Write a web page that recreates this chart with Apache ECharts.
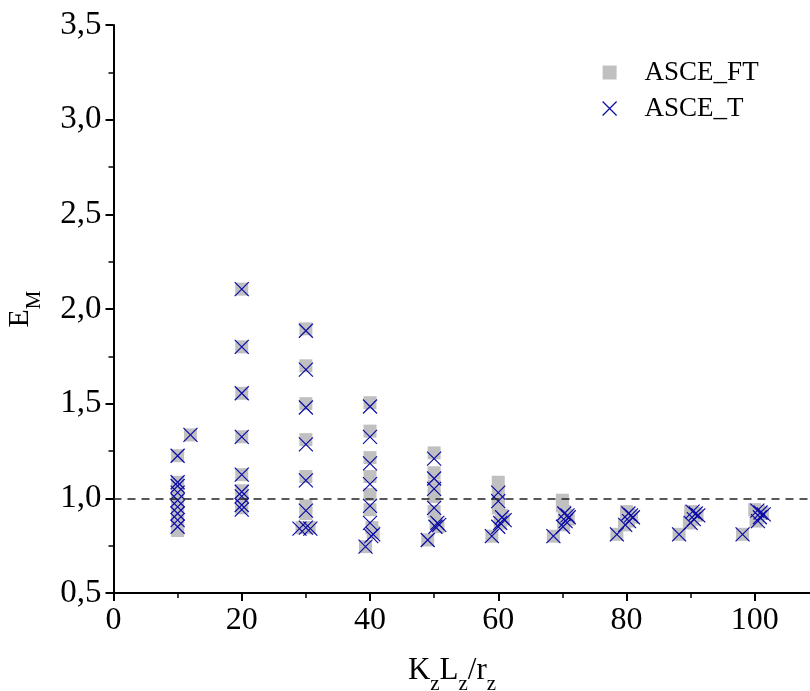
<!DOCTYPE html>
<html>
<head>
<meta charset="utf-8">
<script src="https://cdn.jsdelivr.net/npm/echarts@6/dist/echarts.min.js"></script>
<style>html,body{margin:0;padding:0;background:#fff}#c{width:810px;height:691px}</style>
</head>
<body>
<div id="c"></div>
<script>
// ASCE_FT (grey squares)
const ftX = [10,10,10,10,10,10,10,10,10,10, 12,
  20,20,20,20,20,20,20,20,20,
  30,30,30,30,30,30,30,29.4,30.5,
  40,40,40,40,40,40,40.3,40.5,39.3,
  50,50,50,50,50,50.3,50.6,49.0,
  60,60,60,60,60.5,60.8,60.3,59.0,
  70,70,70.3,70.7,70.9,70.2,68.6,
  80,80.5,80.8,80.3,79.7,78.5,
  90,90.5,91,90.3,89.8,88.2,
  100,100.6,101.2,100.5,100.2,98.1];
const ftY = [1.225,1.085,1.06,1.03,0.99,0.955,0.92,0.885,0.85,0.83, 1.335,
  2.105,1.80,1.555,1.325,1.125,1.04,1.01,0.98,0.95,
  1.895,1.70,1.50,1.31,1.115,0.96,0.92,0.845,0.845,
  1.505,1.355,1.215,1.115,1.02,0.94,0.845,0.82,0.745,
  1.24,1.135,1.065,1.01,0.93,0.87,0.85,0.78,
  1.085,1.045,1.0,0.95,0.91,0.89,0.87,0.80,
  0.99,0.96,0.93,0.91,0.89,0.86,0.80,
  0.93,0.91,0.90,0.88,0.86,0.81,
  0.93,0.92,0.91,0.89,0.87,0.81,
  0.94,0.93,0.92,0.90,0.88,0.81];
// ASCE_T (blue crosses)
const tX = [10,10,10,10,10,10,10,10,10, 12,
  20,20,20,20,20,20,20,20,20,
  30,30,30,30,30,30,29.0,30.0,30.7,
  40,40,40,40,40,40,40.5,40.2,39.3,
  50,50,50,50,50.5,50.8,50.2,49.0,
  60,60,60.6,61,60.3,60.0,59.0,
  70.3,70.8,71.0,70.5,70.1,68.6,
  80.3,80.7,81,80.4,79.8,78.5,
  90.3,90.8,91.2,90.5,90.0,88.2,
  100.4,100.9,101.4,100.8,100.5,98.1];
const tY = [1.225,1.085,1.065,1.03,0.99,0.955,0.92,0.885,0.85, 1.335,
  2.105,1.80,1.555,1.325,1.125,1.035,1.01,0.965,0.94,
  1.885,1.68,1.48,1.285,1.095,0.935,0.84,0.845,0.84,
  1.485,1.325,1.185,1.075,0.96,0.87,0.81,0.80,0.745,
  1.21,1.105,1.05,0.95,0.87,0.86,0.85,0.78,
  1.03,0.985,0.90,0.885,0.87,0.85,0.80,
  0.92,0.91,0.90,0.88,0.85,0.80,
  0.92,0.91,0.90,0.88,0.86,0.81,
  0.93,0.92,0.91,0.89,0.87,0.81,
  0.935,0.925,0.915,0.90,0.88,0.81];
const xTicks = [0,20,40,60,80,100];
const yTicks = [0.5,1.0,1.5,2.0,2.5,3.0,3.5];
const refLine = 1.0;

const FONT = '"Liberation Serif", "Times New Roman", serif';
const crossPath = 'path://M0,0L10,10M10,0L0,10';
const blue = '#0c0ca6';

const chart = echarts.init(document.getElementById('c'), null, {renderer:'canvas'});
chart.setOption({
  animation: false,
  backgroundColor: '#fff',
  grid: {left: 113.5, top: 25, right: -73, bottom: 98, containLabel: false, outerBoundsMode: 'none'},
  legend: {
    orient: 'vertical', left: 597, top: 54, itemGap: 9,
    itemWidth: 14, itemHeight: 14,
    textStyle: {fontFamily: FONT, fontSize: 27, color: '#000', padding: [0,0,0,23]},
    data: [
      {name: 'ASCE_FT', icon: 'rect', itemStyle:{color:'#c0c0c0'}},
      {name: 'ASCE_T', icon: crossPath, itemStyle:{color:'rgba(0,0,0,0)', borderColor: blue, borderWidth: 1.2}}
    ]
  },
  xAxis: {
    type: 'value', min: 0, max: 120, interval: 20,
    axisLine: {show: true, onZero: false, lineStyle: {color: '#000', width: 2}},
    axisTick: {show: true, inside: false, length: 8, lineStyle: {color:'#000', width: 2}},
    minorTick: {show: true, splitNumber: 2, length: 5, lineStyle: {color:'#000', width: 1.5}},
    splitLine: {show: false},
    axisLabel: {fontFamily: FONT, fontSize: 32, color: '#000', margin: 12,
      formatter: v => xTicks.indexOf(v) >= 0 ? String(v) : ''}
  },
  yAxis: {
    type: 'value', min: 0.5, max: 3.5, interval: 0.5,
    name: '{n|E}{s|M}', nameLocation: 'middle', nameGap: 78, nameRotate: 90,
    nameTextStyle: {rich: {
      n: {fontFamily: FONT, fontSize: 30, color: '#000'},
      s: {fontFamily: FONT, fontSize: 21, color: '#000', verticalAlign: 'bottom', padding:[0,0,-9,0]}
    }},
    axisLine: {show: true, lineStyle: {color: '#000', width: 2}},
    axisTick: {show: true, inside: false, length: 8, lineStyle: {color:'#000', width: 2}},
    minorTick: {show: true, splitNumber: 2, length: 5, lineStyle: {color:'#000', width: 1.5}},
    splitLine: {show: false},
    axisLabel: {fontFamily: FONT, fontSize: 33, color: '#000', margin: 12,
      formatter: v => yTicks.indexOf(v) >= 0 ? v.toFixed(1).replace('.', ',') : ''}
  },
  graphic: [{
    type: 'text', x: 452, y: 671,
    style: {
      text: '{n|K}{s|z}{n|L}{s|z}{n|/r}{s|z}',
      align: 'center', verticalAlign: 'middle',
      rich: {
        n: {fontFamily: FONT, fontSize: 31, fill: '#000'},
        s: {fontFamily: FONT, fontSize: 21, fill: '#000', verticalAlign: 'bottom', padding:[0,0,-8,0]}
      }
    }
  }],
  series: [
    {
      name: 'ASCE_FT', type: 'scatter', symbol: 'rect', symbolSize: 13,
      itemStyle: {color: '#c0c0c0', opacity: 1},
      data: ftX.map((x, i) => [x, ftY[i]]),
      markLine: {
        silent: true, symbol: 'none', animation: false,
        label: {show: false},
        lineStyle: {color: '#222', width: 1.5, type: [8, 6]},
        data: [{yAxis: refLine}]
      },
      z: 2
    },
    {
      name: 'ASCE_T', type: 'scatter', symbol: crossPath, symbolSize: 14,
      itemStyle: {color: 'rgba(0,0,0,0)', borderColor: blue, borderWidth: 1.2, opacity: 1},
      data: tX.map((x, i) => [x, tY[i]]),
      z: 3
    }
  ]
});
</script>
</body>
</html>
